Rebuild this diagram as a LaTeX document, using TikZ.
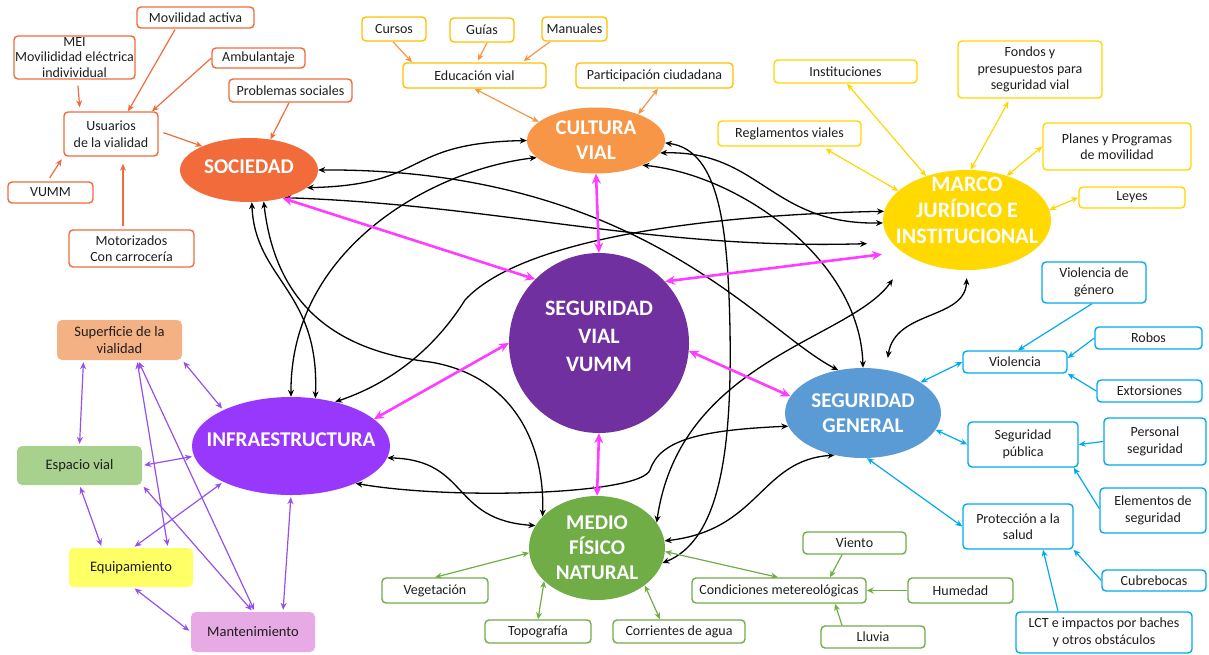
\documentclass[tikz,border=0pt]{standalone}
\usepackage{fontspec}
\setmainfont{Carlito}
\usetikzlibrary{arrows.meta,shapes.geometric}
\pgfdeclarelayer{bg}
\pgfsetlayers{bg,main}
\definecolor{csoc}{RGB}{242,107,58}
\definecolor{ccul}{RGB}{247,150,70}
\definecolor{cmar}{RGB}{255,217,0}
\definecolor{csvv}{RGB}{112,48,160}
\definecolor{cgen}{RGB}{91,155,213}
\definecolor{cmed}{RGB}{112,173,71}
\definecolor{cinf}{RGB}{151,56,252}
\definecolor{oline}{RGB}{238,108,60}
\definecolor{cline}{RGB}{255,192,0}
\definecolor{carrow}{RGB}{245,150,70}
\definecolor{mline}{RGB}{255,215,0}
\definecolor{gline}{RGB}{0,170,235}
\definecolor{nline}{RGB}{112,173,71}
\definecolor{pline}{RGB}{150,80,235}
\definecolor{magc}{RGB}{255,60,255}
\definecolor{txt}{RGB}{30,30,30}
\definecolor{fsup}{RGB}{244,177,131}
\definecolor{fesp}{RGB}{169,209,142}
\definecolor{fequ}{RGB}{255,255,102}
\definecolor{fmnt}{RGB}{232,170,228}
\newcommand\ctxt[2][0pt]{\smash{\makebox[0pt]{\raisebox{\dimexpr-0.33em+#1\relax}{\begin{tabular}{@{}c@{}}#2\end{tabular}}}}}
\tikzset{
  bx/.style={draw, rounded corners=4pt, fill=white, line width=1.4pt, inner sep=1pt, align=center, font=\fontsize{14}{16.5}\selectfont, text=txt},
  ob/.style={bx, draw=oline},
  cb/.style={bx, draw=cline},
  mb/.style={bx, draw=mline},
  gb/.style={bx, draw=gline},
  nb/.style={bx, draw=nline},
  pb/.style={rounded corners=5pt, inner sep=1pt, align=center, font=\fontsize{14.5}{17}\selectfont, text=txt},
  big/.style={ellipse, inner sep=0pt, text=white, font=\fontsize{21}{26}\selectfont\bfseries},
  tipa/.style={>={Stealth[length=7pt,width=6pt]}},
  oarr/.style={tipa, ->, draw=oline, line width=1.2pt},
  carr/.style={tipa, ->, draw=carrow, line width=1.2pt},
  marr/.style={tipa, <->, draw=mline, line width=1.2pt},
  garr/.style={tipa, ->, draw=gline, line width=1.2pt},
  garrd/.style={tipa, <->, draw=gline, line width=1.2pt},
  narr/.style={tipa, ->, draw=nline, line width=1.2pt},
  narrd/.style={tipa, <->, draw=nline, line width=1.2pt},
  parr/.style={tipa, <->, draw=pline, line width=1.2pt, shorten <=2pt, shorten >=2pt},
  blk/.style={tipa, <->, draw=black, line width=1.3pt},
  mag/.style={>={Stealth[length=10pt,width=9pt]}, <->, draw=magc, line width=2.6pt},
}
\begin{document}
\begin{tikzpicture}[x=1pt,y=-1pt]
\useasboundingbox (0,0) rectangle (1209,654);

% main ellipses
\node[big, fill=csoc, minimum width=138pt, minimum height=64pt] (soc) at (249,170) {\ctxt[3.5pt]{SOCIEDAD}};
\node[big, fill=ccul, minimum width=138pt, minimum height=66pt, font=\fontsize{21}{25}\selectfont\bfseries] (cul) at (596,140.5) {\ctxt{CULTURA\\VIAL}};
\node[big, fill=cmar, minimum width=168pt, minimum height=100pt, font=\fontsize{22}{26}\selectfont\bfseries] (mar) at (967,220) {\ctxt[10pt]{MARCO\\JURÍDICO E\\INSTITUCIONAL}};
\node[big, circle, fill=csvv, minimum size=180pt, font=\fontsize{22}{28}\selectfont\bfseries] (svv) at (599,343) {\ctxt[7pt]{SEGURIDAD\\VIAL\\VUMM}};
\node[big, fill=cgen, minimum width=156pt, minimum height=90pt, font=\fontsize{21}{25}\selectfont\bfseries] (gen) at (863,413) {\ctxt{SEGURIDAD\\GENERAL}};
\node[big, fill=cmed, minimum width=136pt, minimum height=104pt, font=\fontsize{21}{24.5}\selectfont\bfseries] (med) at (597,548) {\ctxt{MEDIO\\FÍSICO\\NATURAL}};
\node[big, fill=cinf, minimum width=198pt, minimum height=98pt] (inf) at (291,446) {\ctxt[6pt]{INFRAESTRUCTURA}};

% SOCIEDAD group
\node[ob, minimum width=117pt, minimum height=21pt] (mov) at (195.5,17.5) {Movilidad activa};
\node[ob, minimum width=121pt, minimum height=43pt, inner ysep=0pt, font=\fontsize{14}{15.5}\selectfont] (mei) at (74.5,57.5) {MEI\\Movilididad eléctrica\\indivividual};
\node[ob, minimum width=93pt, minimum height=20pt] (amb) at (258.5,58) {Ambulantaje};
\node[ob, minimum width=123pt, minimum height=23pt] (prob) at (290.5,90.5) {Problemas sociales};
\node[ob, minimum width=94pt, minimum height=44pt] (usu) at (111,134) {Usuarios\\de la vialidad};
\node[ob, minimum width=85pt, minimum height=21pt] (vumm) at (50.5,192.5) {VUMM};
\node[ob, minimum width=125pt, minimum height=37pt] (moto) at (131.5,248.5) {Motorizados\\Con carrocería};

% CULTURA group
\node[cb, minimum width=64pt, minimum height=24pt] (cur) at (394,29) {Cursos};
\node[cb, minimum width=64pt, minimum height=24pt] (gui) at (482,30) {Guías};
\node[cb, minimum width=65pt, minimum height=24pt] (man) at (574.5,29) {Manuales};
\node[cb, minimum width=143pt, minimum height=25pt] (edu) at (474.5,75.5) {Educación vial};
\node[cb, minimum width=157pt, minimum height=25pt] (par) at (654.5,75.5) {Participación ciudadana};

% MARCO group
\node[mb, minimum width=143pt, minimum height=23pt] (ins) at (845.5,71.5) {Instituciones};
\node[mb, minimum width=144pt, minimum height=57pt] (fon) at (1030,69.5) {Fondos y\\presupuestos para\\seguridad vial};
\node[mb, minimum width=143pt, minimum height=25pt] (reg) at (789.5,133.5) {Reglamentos viales};
\node[mb, minimum width=148pt, minimum height=47pt] (pla) at (1117,146.5) {Planes y Programas\\de movilidad};
\node[mb, minimum width=106pt, minimum height=21pt] (ley) at (1132,197.5) {Leyes};

% SEGURIDAD GENERAL group
\node[gb, minimum width=104pt, minimum height=41pt] (vdg) at (1094,282.5) {Violencia de\\género};
\node[gb, minimum width=107pt, minimum height=22pt] (rob) at (1148.5,338) {Robos};
\node[gb, minimum width=104pt, minimum height=22pt] (vio) at (1015,362) {Violencia};
\node[gb, minimum width=105pt, minimum height=22pt] (ext) at (1149.5,391) {Extorsiones};
\node[gb, minimum width=110pt, minimum height=45pt] (spu) at (1023,444.5) {Seguridad\\pública};
\node[gb, minimum width=102pt, minimum height=47pt] (per) at (1155,441.5) {Personal\\seguridad};
\node[gb, minimum width=106pt, minimum height=45pt] (ele) at (1153,510.5) {Elementos de\\seguridad};
\node[gb, minimum width=110pt, minimum height=45pt] (pro) at (1018,526.5) {Protección a la\\salud};
\node[gb, minimum width=104pt, minimum height=21pt] (cub) at (1154,580.5) {Cubrebocas};
\node[gb, minimum width=176pt, minimum height=41pt] (lct) at (1104,632.5) {LCT e impactos por baches\\y otros obstáculos};

% MEDIO group
\node[nb, minimum width=106pt, minimum height=25pt] (veg) at (435,590.5) {Vegetación};
\node[nb, minimum width=106pt, minimum height=23pt] (top) at (538,631.5) {Topografía};
\node[nb, minimum width=132pt, minimum height=23pt] (cor) at (679,631.5) {Corrientes de agua};
\node[nb, minimum width=174pt, minimum height=25pt] (con) at (779,590.5) {Condiciones metereológicas};
\node[nb, minimum width=103pt, minimum height=22pt] (vie) at (854.5,543) {Viento};
\node[nb, minimum width=105pt, minimum height=25pt] (hum) at (960.5,590.5) {Humedad};
\node[nb, minimum width=104pt, minimum height=22pt] (llu) at (873,637) {Lluvia};

% INFRA group
\node[pb, fill=fsup, minimum width=125pt, minimum height=40pt] (sup) at (119.5,340) {Superficie de la\\vialidad};
\node[pb, fill=fesp, minimum width=125pt, minimum height=39pt] (esp) at (79.5,465.5) {Espacio vial};
\node[pb, fill=fequ, minimum width=124pt, minimum height=39pt] (equ) at (131,567.5) {Equipamiento};
\node[pb, fill=fmnt, minimum width=124pt, minimum height=40pt] (mnt) at (253,632) {Mantenimiento};

\begin{pgfonlayer}{bg}
% black inter-node connectors
\draw[blk] (soc.-17) .. controls (430,185) and (400,143) .. (cul.180);
\draw[blk] (soc.0) .. controls (640,168) and (760,330) .. (gen.120);
\draw[blk, shorten >=25pt] (soc.-38) .. controls (500,205) and (650,250) .. (mar.197);
\draw[blk] (soc.-85) .. controls (255,280) and (320,290) .. (inf.63);
\draw[blk] (soc.-65) .. controls (275,300) and (330,350) .. (430,362) .. controls (510,375) and (545,440) .. (med.150);
\draw[blk] (cul.196) .. controls (430,170) and (290,250) .. (inf.90);
\draw[blk] (cul.-11) .. controls (760,150) and (770,225) .. (mar.182);
\draw[blk] (cul.-28) .. controls (740,175) and (860,260) .. (gen.90);
\draw[blk] (cul.-2) .. controls (720,150) and (728,230) .. (730,330) .. controls (732,450) and (720,540) .. (med.-13);
\draw[blk] (mar.174) .. controls (700,215) and (520,240) .. (465,300) .. controls (440,340) and (400,380) .. (inf.45);
\draw[blk, shorten <=28pt] (mar.212) .. controls (850,340) and (680,360) .. (med.23);
\draw[blk, shorten <=8pt, shorten >=12pt] (mar.-90) .. controls (965,320) and (895,310) .. (gen.62);
\draw[blk] (gen.190) .. controls (700,430) and (660,440) .. (650,470) .. controls (640,495) and (450,500) .. (inf.-30);
\draw[blk] (gen.236) .. controls (760,460) and (760,530) .. (med.6);
\draw[blk] (inf.-7) .. controls (470,460) and (450,520) .. (med.160);

% magenta
\draw[mag] (svv.135) -- (soc.-40);
\draw[mag] (svv.90) -- (cul.-90);
\draw[mag, shorten >=20pt] (svv.43) -- (mar.206);
\draw[mag] (svv.-5) -- (gen.167);
\draw[mag] (svv.-90) -- (med.90);
\draw[mag] (svv.180) -- (inf.18);

% SOCIEDAD group arrows
\draw[oarr, shorten <=1pt] ([xshift=-20pt]mov.south) -- ([xshift=17pt]usu.north);
\draw[oarr, shorten <=6pt, shorten >=4pt] ([xshift=3pt]mei.south) -- ([xshift=-31pt]usu.north);
\draw[oarr] (amb.west) -- ([xshift=41pt]usu.north);
\draw[oarr] ([xshift=-1.5pt]prob.south) -- (soc.55);
\draw[oarr, shorten <=5pt] ([yshift=3pt]usu.east) -- (soc.153);
\draw[oarr, shorten <=4pt, shorten >=3pt] ([xshift=-3pt]vumm.north) -- (usu.south west);
\draw[oarr, shorten <=3pt, shorten >=7pt] ([xshift=-8.5pt]moto.north) -- ([xshift=12pt]usu.south);

% CULTURA group arrows
\draw[carr] ([xshift=-1pt]cur.south) -- ([xshift=-62.5pt]edu.north);
\draw[carr, shorten >=2pt] ([xshift=5pt]gui.south) -- ([xshift=2.5pt]edu.north);
\draw[carr, shorten >=2pt] ([xshift=-24.5pt]man.south) -- ([xshift=47.5pt]edu.north);
\draw[carr, <->] (edu.south) -- (cul.162);
\draw[carr, <->] ([xshift=3.5pt]par.south) -- (cul.32.5);

% MARCO group arrows
\draw[marr] ([xshift=1.5pt]ins.south) -- (mar.133);
\draw[marr, shorten <=3pt] ([xshift=-20pt]fon.south) -- (mar.86);
\draw[marr, shorten <=4pt] ([xshift=32.5pt]reg.south) -- (mar.157);
\draw[marr] (pla.west) -- (mar.48);
\draw[marr] (ley.west) -- (mar.7);

% SEGURIDAD GENERAL group arrows
\draw[garrd] (vio.west) -- (gen.28);
\draw[garr] ([xshift=-2pt]vdg.south) -- ([xshift=3pt]vio.north);
\draw[garr] (rob.west) -- ([yshift=4pt]vio.east);
\draw[garr] (ext.west) -- (vio.south east);
\draw[garrd] (spu.west) -- (gen.-13.5);
\draw[garr] (per.west) -- (spu.east);
\draw[garr] ([yshift=2pt]ele.west) -- ([xshift=-5pt]spu.south east);
\draw[garrd] (gen.-85) -- (pro.west);
\draw[garr] (cub.west) -- (pro.south east);
\draw[garr] ([xshift=-46pt]lct.north) -- ([xshift=25pt]pro.south);

% MEDIO group arrows
\draw[narrd] (veg.north) -- (med.184);
\draw[narrd] (top.north) -- (med.212.5);
\draw[narrd] ([xshift=-19pt]cor.north) -- (med.-38);
\draw[narrd] (med.-3) -- ([xshift=-1pt]con.north);
\draw[narr] ([xshift=-12.5pt]vie.south) -- ([xshift=51pt]con.north);
\draw[narr] (hum.west) -- (con.east);
\draw[narr] ([xshift=-31pt]llu.north) -- ([xshift=56pt]con.south);

% INFRA group arrows
\draw[parr] ([xshift=-36pt]sup.south) -- (esp.north);
\draw[parr] ([xshift=17.5pt]sup.south) -- ([xshift=37pt]equ.north);
\draw[parr] ([xshift=18.5pt]sup.south) -- ([xshift=2pt]mnt.north);
\draw[parr] (sup.south east) -- (inf.152.5);
\draw[parr] (esp.east) -- (inf.186);
\draw[parr] (esp.south) -- ([xshift=-29pt]equ.north);
\draw[parr] (esp.south east) -- (mnt.north);
\draw[parr] ([xshift=2pt]equ.north) -- (inf.208);
\draw[parr] ([xshift=2pt]equ.south) -- (mnt.west);
\draw[parr] ([xshift=30pt]mnt.north) -- (inf.-90);
\end{pgfonlayer}
\end{tikzpicture}
\end{document}
